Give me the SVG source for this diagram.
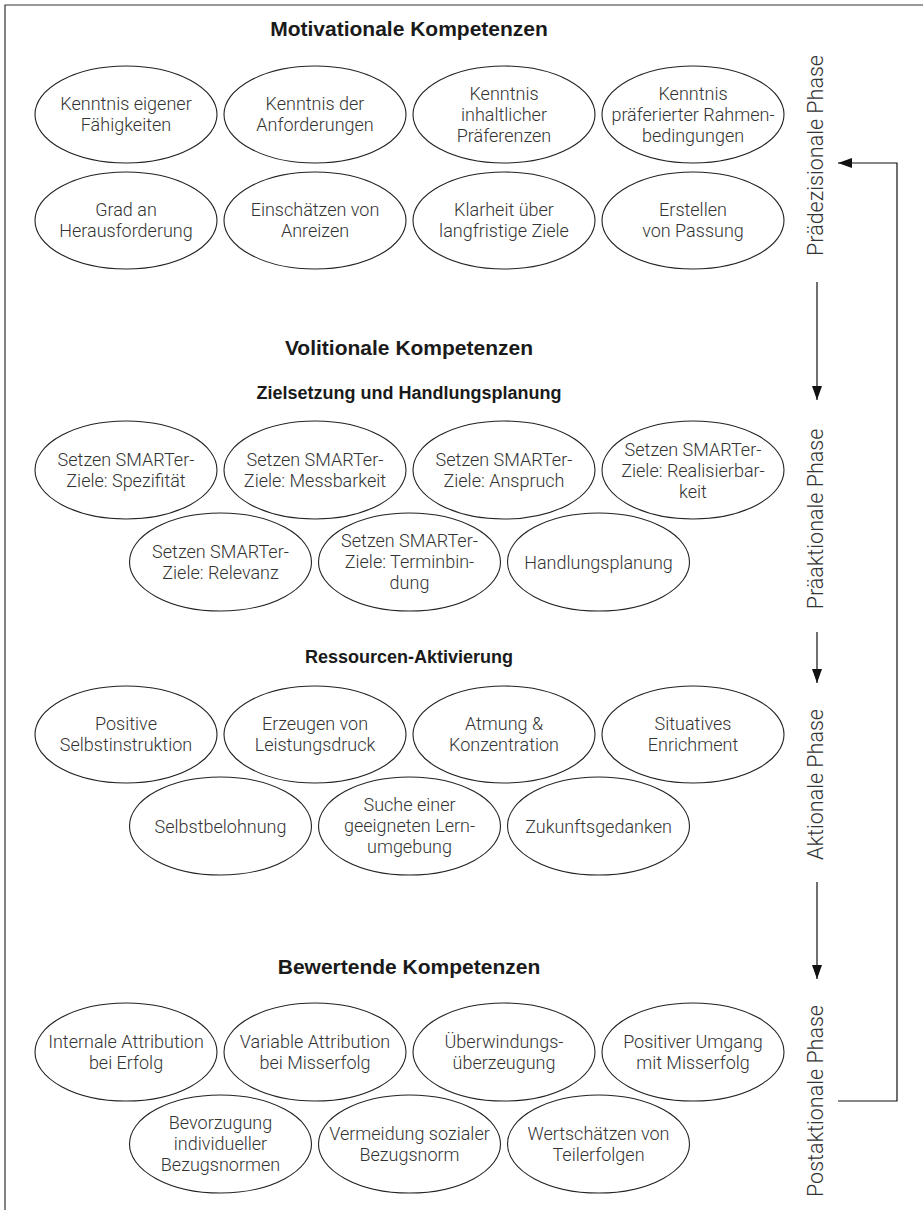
<svg xmlns="http://www.w3.org/2000/svg" width="923" height="1210" viewBox="0 0 923 1210">
<style>
.bg{fill:#fff}
.frame{fill:none;stroke:#333;stroke-width:1.2}
ellipse{fill:#fff;stroke:#222;stroke-width:1.1}
.t{font-family:Roboto,"Liberation Sans",sans-serif;font-weight:300;font-size:18px;fill:#333;text-anchor:middle}
.h1{font-family:"Liberation Sans",Arial,sans-serif;font-weight:bold;font-size:21px;fill:#1a1a1a;text-anchor:middle}
.h2{font-family:"Liberation Sans",Arial,sans-serif;font-weight:bold;font-size:18px;fill:#1a1a1a;text-anchor:middle}
.ph{font-family:Roboto,"Liberation Sans",sans-serif;font-weight:300;font-size:21.5px;fill:#333;text-anchor:middle}
.c{fill:none;stroke:#111;stroke-width:1.2}
</style>
<defs>
<marker id="ah" markerUnits="userSpaceOnUse" markerWidth="14" markerHeight="10" refX="14" refY="5" orient="auto">
<path d="M0,0 L14,5 L0,10 z" fill="#111"/>
</marker>
</defs>
<rect class="bg" x="0" y="0" width="923" height="1210"/>
<path class="frame" d="M5,1210 V5 H923"/>

<text class="h1" x="409" y="36">Motivationale Kompetenzen</text>
<text class="h1" x="409" y="355">Volitionale Kompetenzen</text>
<text class="h2" x="409" y="399">Zielsetzung und Handlungsplanung</text>
<text class="h2" x="409" y="663">Ressourcen-Aktivierung</text>
<text class="h1" x="409" y="974">Bewertende Kompetenzen</text>

<g id="m1"><ellipse cx="126" cy="114.5" rx="91" ry="48.5"/><text class="t"><tspan x="126" y="110">Kenntnis eigener</tspan><tspan x="126" y="131">Fähigkeiten</tspan></text></g>
<g id="m2"><ellipse cx="315" cy="114.5" rx="91" ry="48.5"/><text class="t"><tspan x="315" y="110">Kenntnis der</tspan><tspan x="315" y="131">Anforderungen</tspan></text></g>
<g id="m3"><ellipse cx="504" cy="114.5" rx="91" ry="48.5"/><text class="t"><tspan x="504" y="100">Kenntnis</tspan><tspan x="504" y="121">inhaltlicher</tspan><tspan x="504" y="142">Präferenzen</tspan></text></g>
<g id="m4"><ellipse cx="693" cy="114.5" rx="91" ry="48.5"/><text class="t"><tspan x="693" y="100">Kenntnis</tspan><tspan x="693" y="121">präferierter Rahmen-</tspan><tspan x="693" y="142">bedingungen</tspan></text></g>
<g id="m5"><ellipse cx="126" cy="220.5" rx="91" ry="48.5"/><text class="t"><tspan x="126" y="216">Grad an</tspan><tspan x="126" y="237">Herausforderung</tspan></text></g>
<g id="m6"><ellipse cx="315" cy="220.5" rx="91" ry="48.5"/><text class="t"><tspan x="315" y="216">Einschätzen von</tspan><tspan x="315" y="237">Anreizen</tspan></text></g>
<g id="m7"><ellipse cx="504" cy="220.5" rx="91" ry="48.5"/><text class="t"><tspan x="504" y="216">Klarheit über</tspan><tspan x="504" y="237">langfristige Ziele</tspan></text></g>
<g id="m8"><ellipse cx="693" cy="220.5" rx="91" ry="48.5"/><text class="t"><tspan x="693" y="216">Erstellen</tspan><tspan x="693" y="237">von Passung</tspan></text></g>

<g id="z1"><ellipse cx="126" cy="470" rx="91" ry="49"/><text class="t"><tspan x="126" y="466">Setzen SMARTer-</tspan><tspan x="126" y="487">Ziele: Spezifität</tspan></text></g>
<g id="z2"><ellipse cx="315" cy="470" rx="91" ry="49"/><text class="t"><tspan x="315" y="466">Setzen SMARTer-</tspan><tspan x="315" y="487">Ziele: Messbarkeit</tspan></text></g>
<g id="z3"><ellipse cx="504" cy="470" rx="91" ry="49"/><text class="t"><tspan x="504" y="466">Setzen SMARTer-</tspan><tspan x="504" y="487">Ziele: Anspruch</tspan></text></g>
<g id="z4"><ellipse cx="693" cy="470" rx="91" ry="49"/><text class="t"><tspan x="693" y="456">Setzen SMARTer-</tspan><tspan x="693" y="477">Ziele: Realisierbar-</tspan><tspan x="693" y="498">keit</tspan></text></g>
<g id="z5"><ellipse cx="220.5" cy="562" rx="91" ry="49"/><text class="t"><tspan x="220.5" y="558">Setzen SMARTer-</tspan><tspan x="220.5" y="579">Ziele: Relevanz</tspan></text></g>
<g id="z6"><ellipse cx="409.5" cy="562" rx="91" ry="49"/><text class="t"><tspan x="409.5" y="547">Setzen SMARTer-</tspan><tspan x="409.5" y="568">Ziele: Terminbin-</tspan><tspan x="409.5" y="589">dung</tspan></text></g>
<g id="z7"><ellipse cx="598.5" cy="562" rx="91" ry="49"/><text class="t"><tspan x="598.5" y="569">Handlungsplanung</tspan></text></g>

<g id="r1"><ellipse cx="126" cy="734.5" rx="91" ry="48.5"/><text class="t"><tspan x="126" y="730">Positive</tspan><tspan x="126" y="751">Selbstinstruktion</tspan></text></g>
<g id="r2"><ellipse cx="315" cy="734.5" rx="91" ry="48.5"/><text class="t"><tspan x="315" y="730">Erzeugen von</tspan><tspan x="315" y="751">Leistungsdruck</tspan></text></g>
<g id="r3"><ellipse cx="504" cy="734.5" rx="91" ry="48.5"/><text class="t"><tspan x="504" y="730">Atmung &amp;</tspan><tspan x="504" y="751">Konzentration</tspan></text></g>
<g id="r4"><ellipse cx="693" cy="734.5" rx="91" ry="48.5"/><text class="t"><tspan x="693" y="730">Situatives</tspan><tspan x="693" y="751">Enrichment</tspan></text></g>
<g id="r5"><ellipse cx="220.5" cy="826" rx="91" ry="49"/><text class="t"><tspan x="220.5" y="833">Selbstbelohnung</tspan></text></g>
<g id="r6"><ellipse cx="409.5" cy="826" rx="91" ry="49"/><text class="t"><tspan x="409.5" y="811">Suche einer</tspan><tspan x="409.5" y="832">geeigneten Lern-</tspan><tspan x="409.5" y="853">umgebung</tspan></text></g>
<g id="r7"><ellipse cx="598.5" cy="826" rx="91" ry="49"/><text class="t"><tspan x="598.5" y="833">Zukunftsgedanken</tspan></text></g>

<g id="b1"><ellipse cx="126" cy="1052" rx="91" ry="49"/><text class="t"><tspan x="126" y="1048">Internale Attribution</tspan><tspan x="126" y="1069">bei Erfolg</tspan></text></g>
<g id="b2"><ellipse cx="315" cy="1052" rx="91" ry="49"/><text class="t"><tspan x="315" y="1048">Variable Attribution</tspan><tspan x="315" y="1069">bei Misserfolg</tspan></text></g>
<g id="b3"><ellipse cx="504" cy="1052" rx="91" ry="49"/><text class="t"><tspan x="504" y="1048">Überwindungs-</tspan><tspan x="504" y="1069">überzeugung</tspan></text></g>
<g id="b4"><ellipse cx="693" cy="1052" rx="91" ry="49"/><text class="t"><tspan x="693" y="1048">Positiver Umgang</tspan><tspan x="693" y="1069">mit Misserfolg</tspan></text></g>
<g id="b5"><ellipse cx="220.5" cy="1144" rx="91" ry="49"/><text class="t"><tspan x="220.5" y="1129">Bevorzugung</tspan><tspan x="220.5" y="1150">individueller</tspan><tspan x="220.5" y="1171">Bezugsnormen</tspan></text></g>
<g id="b6"><ellipse cx="409.5" cy="1144" rx="91" ry="49"/><text class="t"><tspan x="409.5" y="1140">Vermeidung sozialer</tspan><tspan x="409.5" y="1161">Bezugsnorm</tspan></text></g>
<g id="b7"><ellipse cx="598.5" cy="1144" rx="91" ry="49"/><text class="t"><tspan x="598.5" y="1140">Wertschätzen von</tspan><tspan x="598.5" y="1161">Teilerfolgen</tspan></text></g>

<g id="phases">
<text class="ph" transform="translate(823,155.5) rotate(-90)">Prädezisionale Phase</text>
<text class="ph" transform="translate(823,519) rotate(-90)">Präaktionale Phase</text>
<text class="ph" transform="translate(823,784.5) rotate(-90)">Aktionale Phase</text>
<text class="ph" transform="translate(823,1101) rotate(-90)">Postaktionale Phase</text>
</g>

<g id="connectors">
<path class="c" d="M817,282 V400" marker-end="url(#ah)"/>
<path class="c" d="M817,632 V683" marker-end="url(#ah)"/>
<path class="c" d="M817,882 V979" marker-end="url(#ah)"/>
<path class="c" d="M838,1101 H897 V163 H838" marker-end="url(#ah)"/>
</g>
</svg>
